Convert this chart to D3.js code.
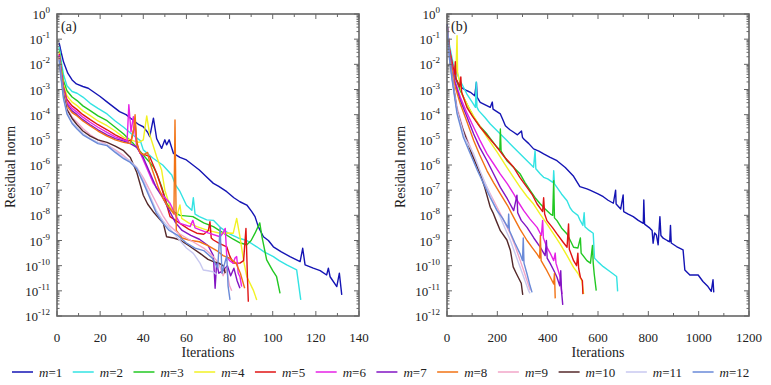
<!DOCTYPE html>
<html>
<head>
<meta charset="utf-8">
<script src="https://cdn.jsdelivr.net/npm/d3@7"></script>
<style>
  body { margin: 0; background: #fff; }
  #chart { width: 771px; height: 385px; }
  text { font-family: "Liberation Serif", "Times New Roman", serif; font-size: 13px; fill: #222; }
</style>
</head>
<body>
<div id="chart"></div>
<script>
const labels = ["1", "2", "3", "4", "5", "6", "7", "8", "9", "10", "11", "12"];
const colors = ["#1414b4", "#33e3e3", "#22c822", "#f2f224", "#e01414", "#e622e6",
  "#8214c3", "#f27314", "#f2a6c8", "#54282a", "#c8c8f0", "#6a8ad8"];
const xTicksA = [0, 20, 40, 60, 80, 100, 120, 140];
const xTicksB = [0, 200, 400, 600, 800, 1000, 1200];
const yExps = [0, -1, -2, -3, -4, -5, -6, -7, -8, -9, -10, -11, -12];

// [iteration, log10(residual)]
const a_m1 = [[1,-1.15],[2,-1.55],[3,-1.9],[5,-2.35],[7,-2.62],[9,-2.78],[12,-2.88],[14.5,-2.95],[17,-3.1],[20,-3.28],[23,-3.48],[26,-3.68],[29,-3.88],[32,-4.0],[35,-4.2],[38,-4.4],[40,-4.48],[42,-4.7],[43,-4.87],[44.7,-4.14],[46.2,-4.95],[48.5,-5.34],[50,-5.0],[50.8,-5.2],[52,-5.0],[54,-5.54],[57,-5.7],[60,-5.8],[63,-6.0],[66,-6.2],[69,-6.45],[72.5,-6.73],[75,-6.85],[78.7,-7.06],[82,-7.3],[84.8,-7.46],[88,-7.59],[90.3,-7.85],[91.8,-8.05],[93.3,-8.45],[95.7,-8.85],[98,-9.0],[100.3,-9.25],[104,-9.45],[108,-9.64],[112.7,-9.84],[113.9,-9.31],[115,-9.97],[118.8,-10.1],[122,-10.2],[125,-10.37],[125.8,-10.1],[126.6,-10.44],[129.7,-10.83],[130.9,-10.3],[132,-11.16]];
const a_m2 = [[1,-1.3],[2,-1.9],[3,-2.4],[4.6,-2.85],[7,-3.08],[9.3,-3.15],[12,-3.3],[15.4,-3.55],[19,-3.75],[23.2,-3.97],[27,-4.25],[30.9,-4.5],[35,-4.8],[38.6,-5.03],[40,-5.4],[44.7,-5.74],[49,-6.0],[53.2,-6.4],[55,-6.8],[57,-7.05],[60,-7.6],[62.5,-7.8],[63.2,-7.3],[64,-7.95],[66,-8.05],[69.4,-8.18],[72.5,-8.2],[76,-8.5],[80.2,-8.75],[84,-8.9],[88,-9.0],[92.6,-9.25],[96,-9.45],[100.3,-9.64],[103,-9.8],[106.5,-9.97],[111.1,-10.17],[113,-11.36]];
const a_m3 = [[1,-1.45],[2,-2.1],[3,-2.65],[4.6,-3.05],[7,-3.3],[9.3,-3.44],[12,-3.65],[15.4,-3.84],[19,-4.05],[23.2,-4.24],[27,-4.5],[30.9,-4.77],[33,-4.95],[35.4,-5.15],[38,-5.4],[41,-5.7],[44.7,-6.07],[46.5,-6.4],[48.5,-6.86],[50.8,-7.52],[53,-7.8],[57,-8.0],[63,-8.05],[68,-8.3],[72.5,-8.45],[77,-8.7],[81.7,-8.95],[85,-9.1],[88,-9.17],[90,-9.0],[91.8,-8.71],[94,-8.3],[95,-8.85],[97.2,-9.77],[100,-10.2],[101.8,-10.44],[103.4,-11.1]];
const a_m4 = [[1,-1.5],[2,-2.2],[3,-2.8],[4.6,-3.25],[7,-3.5],[9.3,-3.64],[12,-3.85],[15.4,-4.04],[19,-4.25],[23.2,-4.44],[27,-4.65],[30.9,-4.9],[34,-5.0],[38,-5.1],[40,-5.0],[41.6,-4.05],[43,-4.8],[46.2,-5.67],[48.5,-6.2],[50,-7.0],[52.4,-7.66],[55.5,-8.05],[57,-7.59],[57.8,-8.12],[61,-8.3],[64.8,-8.45],[70,-8.6],[75.6,-8.71],[79,-8.7],[81.7,-8.71],[83.3,-8.12],[84.8,-8.85],[86.5,-9.8],[88,-10.44],[91,-10.97],[92.6,-11.36]];
const a_m5 = [[1,-1.58],[2,-2.3],[3,-2.9],[4.6,-3.4],[7,-3.65],[9.3,-3.8],[12,-4.0],[15.4,-4.2],[19,-4.4],[23.2,-4.6],[27,-4.8],[30.9,-4.97],[33,-5.05],[34.5,-5.0],[36.2,-4.34],[37,-5.1],[38.5,-5.54],[41,-5.6],[43,-5.67],[46.2,-6.33],[49.3,-7.12],[52.4,-8.05],[55,-8.2],[57,-8.32],[61,-8.55],[64.8,-8.71],[68,-8.75],[70.2,-8.6],[70.9,-8.25],[71.5,-8.9],[72.5,-8.98],[75,-9.1],[78.7,-9.25],[80,-9.6],[81.7,-9.9],[84.8,-9.9],[86.5,-9.8],[87.6,-8.52],[88.3,-10.5],[88.7,-11.43]];
const a_m6 = [[1,-1.62],[2,-2.35],[3,-2.95],[4.6,-3.5],[7,-3.75],[9.3,-3.9],[12,-4.1],[15.4,-4.3],[19,-4.5],[23.2,-4.7],[27,-4.88],[30.9,-5.0],[32.5,-5.05],[33.3,-3.6],[34.3,-4.68],[35.4,-4.08],[36.9,-5.27],[39,-5.6],[42,-6.2],[44.7,-6.73],[48,-7.1],[52.4,-7.52],[55,-8.0],[57,-8.32],[60,-8.4],[61.7,-8.45],[63,-8.2],[64,-8.5],[66.3,-8.58],[70,-8.7],[75.6,-8.85],[77,-8.7],[78,-8.52],[78.7,-9.64],[80,-9.8],[81.7,-9.9],[82.5,-9.7],[83.3,-9.64],[84,-10.3],[84.8,-10.44],[85.6,-10.83]];
const a_m7 = [[1,-1.66],[2,-2.4],[3,-3.0],[4.6,-3.58],[7,-3.85],[9.3,-4.0],[12,-4.2],[15.4,-4.4],[19,-4.6],[23.2,-4.8],[27,-4.95],[30.9,-5.05],[34,-5.15],[37,-5.3],[40,-5.7],[43,-6.3],[46,-6.9],[49,-7.3],[52,-7.8],[55,-8.3],[58,-8.6],[62,-8.8],[66,-8.95],[70,-9.2],[72.5,-9.6],[73.3,-10.9],[74,-9.9],[75,-10.3],[77,-10.2],[79,-10.0],[80.5,-10.4],[82,-10.1],[83.5,-10.6],[84.8,-10.9]];
const a_m8 = [[1,-1.7],[2,-2.45],[3,-3.05],[4.6,-3.65],[7,-3.92],[9.3,-4.05],[12,-4.25],[15.4,-4.45],[19,-4.65],[23.2,-4.85],[27,-5.0],[30.9,-5.1],[34,-5.15],[35.5,-4.6],[36.2,-4.0],[37,-5.2],[38.5,-5.5],[40,-5.6],[42,-5.5],[43,-5.9],[45,-6.4],[47,-6.9],[49,-7.3],[51,-7.6],[53,-7.8],[54.2,-7.95],[54.7,-4.21],[55.3,-8.6],[58,-8.9],[62,-9.0],[66,-9.05],[70,-9.2],[74,-9.4],[77,-9.6],[80,-9.7],[83,-9.9],[85,-10.3],[87,-10.9]];
const a_m9 = [[1,-1.72],[2,-2.5],[3,-3.15],[4.6,-3.75],[7,-4.1],[9.3,-4.3],[12,-4.55],[15.4,-4.8],[19,-5.0],[23.2,-5.2],[27,-5.4],[30.9,-5.63],[34,-5.85],[37,-6.1],[40,-6.5],[43,-7.0],[46,-7.5],[49,-8.0],[52,-8.4],[56,-8.7],[60,-8.9],[64,-9.1],[68,-9.3],[72,-9.6],[75,-9.9],[77,-10.4],[78.5,-10.1],[80,-10.8],[81,-11.0]];
const a_m10 = [[1,-1.76],[2,-2.55],[3,-3.2],[4.6,-3.8],[7,-4.15],[9.3,-4.4],[12,-4.65],[15.4,-4.85],[19,-5.0],[23.2,-5.1],[27,-5.25],[30.9,-5.43],[34,-5.7],[37,-6.3],[40,-7.2],[42,-7.55],[45,-7.9],[49.3,-8.32],[50.8,-8.85],[54,-8.9],[57,-8.98],[61,-9.2],[66.3,-9.51],[70,-9.75],[72.5,-9.84],[75,-9.9],[77,-10.0],[78,-10.3]];
const a_m11 = [[1,-1.8],[2,-2.6],[3,-3.3],[4.6,-3.9],[7,-4.3],[9.3,-4.5],[12,-4.75],[15.4,-4.95],[19,-5.1],[23.2,-5.2],[27,-5.45],[30.9,-5.7],[34,-5.85],[37,-6.1],[40,-6.6],[43,-7.2],[46,-7.8],[49,-8.2],[52,-8.5],[56,-8.9],[60,-9.3],[63.2,-9.51],[66.3,-9.9],[67.8,-10.17],[70,-10.2],[72.3,-10.24],[74,-10.35]];
const a_m12 = [[1,-1.83],[2,-2.65],[3,-3.35],[4.6,-3.97],[7,-4.35],[9.3,-4.57],[12,-4.8],[15.4,-4.97],[19,-5.15],[23.2,-5.23],[27,-5.5],[30.9,-5.75],[34,-5.9],[37,-6.15],[40,-6.7],[43,-7.3],[46,-7.9],[49,-8.3],[52,-8.6],[56,-8.8],[60,-9.1],[64,-9.3],[68,-9.4],[72,-9.7],[74.5,-10.1],[75.6,-8.5],[76.5,-10.3],[78.7,-9.6],[79.3,-10.8],[80.2,-11.36]];

const b_m1 = [[1,-0.4],[5,-0.9],[10,-1.4],[18,-2.0],[26,-2.38],[40,-2.7],[55,-2.9],[66,-2.98],[80,-3.05],[93,-3.11],[110,-3.25],[117,-2.72],[120,-3.31],[132,-3.51],[150,-3.6],[172,-3.71],[180,-3.5],[183,-3.78],[192,-3.84],[212,-3.97],[222,-4.2],[232,-4.44],[250,-4.6],[265,-4.7],[280,-4.8],[296,-4.65],[300,-4.9],[305,-4.97],[325,-5.15],[344,-5.36],[365,-5.45],[384,-5.56],[410,-5.7],[437,-5.83],[470,-6.1],[503,-6.45],[528,-6.86],[556,-6.95],[568,-7.0],[600,-7.15],[621,-7.26],[640,-7.4],[661,-7.52],[670,-7.0],[672,-7.55],[690,-7.75],[700,-7.19],[702,-7.85],[720,-7.95],[740,-8.05],[760,-8.2],[780,-8.32],[782,-7.39],[785,-8.35],[806,-8.51],[815,-8.6],[819,-9.11],[825,-8.7],[832,-8.78],[839,-9.17],[846,-8.05],[850,-8.8],[859,-8.91],[875,-9.0],[885,-9.05],[888,-8.4],[891,-9.1],[912,-9.24],[938,-9.37],[945,-10.17],[965,-10.37],[998,-10.37],[1017,-10.63],[1037,-10.83],[1050,-11.02],[1057,-10.56],[1060,-11.06]];
const b_m2 = [[1,-0.5],[5,-1.0],[13,-1.4],[25,-2.0],[40,-2.38],[55,-2.7],[79,-3.18],[100,-3.5],[113,-3.71],[116,-2.7],[119,-3.7],[126,-3.84],[150,-4.1],[172,-4.37],[190,-4.55],[212,-4.77],[240,-5.05],[265,-5.3],[285,-5.5],[305,-5.7],[325,-5.9],[344,-6.09],[350,-5.43],[353,-6.15],[370,-6.35],[384,-6.49],[400,-6.55],[422,-6.7],[424,-6.23],[427,-6.75],[437,-6.89],[455,-7.15],[477,-7.42],[489,-7.7],[500,-7.85],[520,-8.0],[528,-8.18],[540,-8.4],[545,-7.9],[548,-8.45],[565,-8.6],[581,-8.71],[586,-9.7],[600,-9.85],[621,-10.04],[650,-10.25],[674,-10.43],[676,-10.7],[678,-11.02]];
const b_m3 = [[1,-0.5],[5,-1.1],[13,-1.6],[25,-2.2],[40,-2.7],[53,-3.05],[80,-3.6],[106,-4.1],[130,-4.45],[159,-4.77],[180,-5.05],[199,-5.3],[210,-5.4],[212,-4.57],[215,-5.45],[238,-5.83],[265,-6.1],[291,-6.36],[310,-6.7],[331,-7.02],[350,-7.3],[371,-7.55],[390,-7.75],[411,-7.95],[420,-8.0],[424,-6.62],[427,-8.1],[437,-8.21],[455,-8.5],[477,-8.74],[490,-9.0],[503,-9.27],[520,-9.3],[530,-8.9],[533,-9.5],[556,-9.8],[570,-9.9],[578,-9.2],[581,-9.9],[585,-10.33],[593,-10.99]];
const b_m4 = [[1,-0.55],[10,-1.4],[20,-2.0],[35,-2.35],[38,-1.5],[40,-0.86],[42,-2.3],[46,-2.5],[60,-3.2],[93,-3.84],[120,-4.3],[159,-4.9],[200,-5.5],[238,-6.09],[265,-6.5],[291,-6.89],[318,-7.25],[344,-7.55],[370,-7.95],[397,-8.34],[424,-8.75],[450,-9.14],[477,-9.6],[503,-10.07],[520,-10.3],[536,-10.6],[543,-11.13]];
const b_m5 = [[1,-0.5],[10,-1.4],[20,-1.9],[30,-2.4],[33,-1.9],[36,-2.6],[40,-2.65],[50,-2.9],[55,-2.5],[58,-3.1],[79,-3.71],[100,-4.05],[132,-4.5],[165,-4.9],[199,-5.3],[230,-5.7],[265,-6.09],[290,-6.5],[318,-6.89],[340,-7.2],[358,-7.55],[380,-7.85],[384,-7.3],[388,-7.95],[397,-8.21],[420,-8.5],[437,-8.74],[460,-9.05],[477,-9.27],[483,-8.34],[486,-9.35],[503,-9.8],[515,-10.0],[520,-9.5],[523,-10.1],[530,-10.46],[538,-10.6],[540,-11.13]];
const b_m6 = [[1,-0.5],[10,-1.5],[20,-2.1],[30,-2.6],[53,-3.31],[80,-3.95],[106,-4.5],[130,-5.0],[159,-5.56],[185,-5.95],[212,-6.36],[240,-6.75],[265,-7.15],[285,-7.5],[305,-7.81],[330,-8.15],[358,-8.48],[375,-8.8],[380,-8.2],[383,-8.9],[397,-9.27],[410,-9.5],[424,-9.8],[430,-9.5],[433,-9.9],[450,-10.46],[454,-10.9],[457,-11.13]];
const b_m7 = [[1,-0.5],[10,-1.5],[20,-2.15],[30,-2.7],[53,-3.44],[80,-4.1],[106,-4.77],[130,-5.3],[159,-5.83],[185,-6.35],[212,-6.89],[240,-7.35],[265,-7.81],[278,-7.2],[281,-7.9],[295,-8.2],[318,-8.48],[345,-8.9],[371,-9.27],[390,-9.6],[395,-9.0],[398,-9.7],[411,-9.93],[425,-10.2],[437,-10.46],[448,-10.8],[452,-10.2],[455,-11.0],[460,-11.56]];
const b_m8 = [[1,-0.5],[10,-1.6],[20,-2.2],[30,-2.8],[53,-3.58],[80,-4.3],[106,-5.03],[130,-5.6],[159,-6.23],[185,-6.7],[212,-7.15],[240,-7.6],[265,-8.08],[290,-8.55],[318,-9.0],[340,-9.3],[358,-9.54],[368,-9.7],[371,-8.8],[374,-9.8],[397,-10.2],[410,-10.45],[424,-10.73],[427,-10.3],[430,-11.3]];
const b_m9 = [[1,-0.5],[10,-1.7],[20,-2.4],[40,-3.71],[65,-4.6],[93,-5.3],[120,-6.0],[146,-6.62],[172,-7.15],[199,-7.68],[225,-8.2],[252,-8.74],[270,-9.2],[291,-9.8],[305,-10.2],[318,-10.6],[331,-10.99]];
const b_m10 = [[1,-0.5],[10,-1.7],[20,-2.5],[40,-3.84],[60,-4.5],[79,-5.03],[100,-5.6],[132,-6.36],[150,-6.9],[172,-7.68],[183,-7.9],[195,-8.2],[212,-8.61],[238,-8.98],[252,-9.4],[263,-10.05],[275,-10.3],[285,-10.5],[295,-10.7],[301,-11.16]];
const b_m11 = [[1,-0.5],[10,-1.8],[20,-2.55],[40,-3.84],[70,-4.9],[106,-5.56],[130,-6.2],[159,-6.89],[185,-7.5],[212,-8.08],[230,-8.5],[252,-9.0],[270,-9.5],[291,-10.07],[310,-10.6],[324,-10.99],[330,-11.1]];
const b_m12 = [[1,-0.5],[10,-1.8],[20,-2.6],[40,-3.97],[65,-4.9],[93,-5.56],[120,-6.2],[146,-6.75],[172,-7.3],[199,-7.81],[220,-8.1],[243,-8.5],[245,-7.95],[248,-8.6],[270,-9.1],[291,-9.54],[300,-9.8],[303,-8.9],[306,-9.9],[318,-10.33],[330,-10.8],[338,-11.06]];

const panelA = [a_m1, a_m2, a_m3, a_m4, a_m5, a_m6, a_m7, a_m8, a_m9, a_m10, a_m11, a_m12];
const panelB = [b_m1, b_m2, b_m3, b_m4, b_m5, b_m6, b_m7, b_m8, b_m9, b_m10, b_m11, b_m12];

class LogPanel {
  constructor(svg, { left, top, size, xMax, xTicks, minorStep, tag, series }) {
    this.g = svg.append("g").attr("transform", `translate(${left},${top})`);
    this.size = size;
    this.x = d3.scaleLinear().domain([0, xMax]).range([0, size]);
    this.y = d3.scaleLog().domain([1e-12, 1]).range([size, 0]);
    this.xTicks = xTicks;
    this.minorStep = minorStep;
    this.xMax = xMax;
    this.tag = tag;
    this.series = series;
  }

  draw() {
    this.add_lines();
    this.add_frame();
    this.add_labels();
  }

  add_lines() {
    const line = d3.line().x(d => this.x(d[0])).y(d => this.y(Math.pow(10, d[1])));
    this.g.selectAll(".series")
      .data(this.series)
      .join("path")
      .attr("class", "series")
      .attr("fill", "none")
      .attr("stroke", (d, i) => colors[i])
      .attr("stroke-width", 1.4)
      .attr("stroke-linejoin", "round")
      .attr("d", line);
  }

  add_frame() {
    const s = this.size, g = this.g;
    const stroke = "#666";
    const minorY = [];
    for (let e = -12; e < 0; e++) for (let m = 2; m <= 9; m++) minorY.push(m * Math.pow(10, e));
    const minorX = d3.range(this.minorStep, this.xMax, this.minorStep * 2);
    const tk = g.append("g").attr("stroke", stroke).attr("stroke-width", 1);
    yExps.forEach(e => {
      const yy = this.y(Math.pow(10, e));
      tk.append("line").attr("x1", 0).attr("x2", 5).attr("y1", yy).attr("y2", yy);
      tk.append("line").attr("x1", s).attr("x2", s - 5).attr("y1", yy).attr("y2", yy);
    });
    minorY.forEach(v => {
      const yy = this.y(v);
      tk.append("line").attr("x1", 0).attr("x2", 2.5).attr("y1", yy).attr("y2", yy);
      tk.append("line").attr("x1", s).attr("x2", s - 2.5).attr("y1", yy).attr("y2", yy);
    });
    this.xTicks.forEach(v => {
      const xx = this.x(v);
      tk.append("line").attr("x1", xx).attr("x2", xx).attr("y1", s).attr("y2", s - 5);
      tk.append("line").attr("x1", xx).attr("x2", xx).attr("y1", 0).attr("y2", 5);
    });
    minorX.forEach(v => {
      const xx = this.x(v);
      tk.append("line").attr("x1", xx).attr("x2", xx).attr("y1", s).attr("y2", s - 3);
      tk.append("line").attr("x1", xx).attr("x2", xx).attr("y1", 0).attr("y2", 3);
    });
    g.append("rect").attr("width", s).attr("height", s)
      .attr("fill", "none").attr("stroke", stroke).attr("stroke-width", 1.6);
  }

  add_labels() {
    const s = this.size, g = this.g;
    g.selectAll(".xtick").data(this.xTicks).join("text")
      .attr("class", "xtick")
      .attr("x", d => this.x(d)).attr("y", s + 26)
      .attr("text-anchor", "middle").text(d => d);
    const yl = g.selectAll(".ytick").data(yExps).join("text")
      .attr("class", "ytick")
      .attr("x", -7).attr("y", d => this.y(Math.pow(10, d)) + 5)
      .attr("text-anchor", "end");
    yl.append("tspan").text("10");
    yl.append("tspan").attr("dy", -6).style("font-size", "9px").text(d => d);
    g.append("text").attr("x", s / 2).attr("y", s + 41)
      .attr("text-anchor", "middle").style("font-size", "14px").text("Iterations");
    g.append("text")
      .attr("transform", `translate(${-42},${s / 2 + 2}) rotate(-90)`)
      .attr("text-anchor", "middle").style("font-size", "14px").text("Residual norm");
    g.append("text").attr("x", 4).attr("y", 17).style("font-size", "14px").text(this.tag);
  }
}

const svg = d3.select("#chart").append("svg").attr("width", 771).attr("height", 385);

new LogPanel(svg, { left: 57, top: 14, size: 302, xMax: 140, xTicks: xTicksA, minorStep: 10, tag: "(a)", series: panelA }).draw();
new LogPanel(svg, { left: 447, top: 14, size: 302, xMax: 1200, xTicks: xTicksB, minorStep: 100, tag: "(b)", series: panelB }).draw();

// legend
const legend = svg.append("g").attr("transform", "translate(0,372)");
let lx = 12;
labels.forEach((lab, i) => {
  legend.append("line").attr("x1", lx).attr("x2", lx + 21).attr("y1", 0).attr("y2", 0)
    .attr("stroke", colors[i]).attr("stroke-width", 1.5);
  const t = legend.append("text").attr("x", lx + 27).attr("y", 5);
  t.append("tspan").style("font-style", "italic").text("m");
  t.append("tspan").text("=" + lab);
  lx += 27 + t.node().getComputedTextLength() + 10.5;
});
</script>
</body>
</html>
